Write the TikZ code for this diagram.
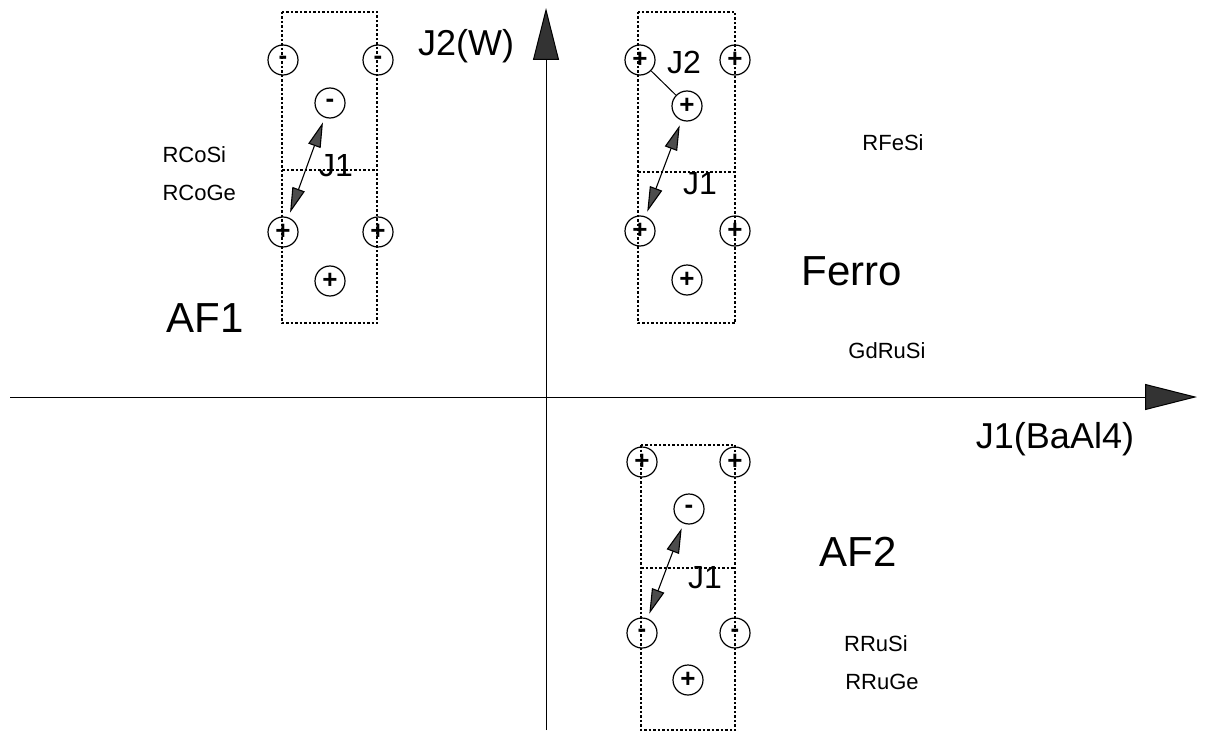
\documentclass[tikz,border=0pt]{standalone}
\usepackage{fontspec}
\setmainfont{Liberation Sans}
\usetikzlibrary{arrows.meta}
\begin{document}
\begin{tikzpicture}[x=1pt,y=-1pt,
  spin/.style={circle,draw,line width=1.2pt,minimum size=30pt,inner sep=0pt,font=\fontsize{26}{26}\selectfont\bfseries},
  cell/.style={draw,line width=1.3pt,dash pattern=on 2.5pt off 2pt},
  axis/.style={line width=1pt,-{Triangle[length=52pt,width=26pt,fill=black!80]}},
  bond/.style={line width=1.1pt,{Triangle[length=25pt,width=13pt,fill=black!70]}-{Triangle[length=25pt,width=13pt,fill=black!70]},shorten >=5pt,shorten <=5pt},
  big/.style={font=\fontsize{42}{42}\selectfont},
  mid/.style={font=\fontsize{36}{36}\selectfont},
  jl/.style={font=\fontsize{32}{32}\selectfont},
  small/.style={font=\fontsize{22}{22}\selectfont}]
\useasboundingbox (0,0) rectangle (1207,733);
% axes
\coordinate (xl) at (10,397);
\coordinate (xr) at (1197,397);
\coordinate (yb) at (546,730);
\coordinate (yt) at (546,8);
\draw[axis] (xl) -- (xr);
\draw[axis] (yb) -- (yt);
% AF1 cell
\draw[cell] (282,12) rectangle (377,323);
\draw[cell] (282,170) -- (377,170);
\node[spin] (a1) at (283,60) {-};
\node[spin] (a2) at (378,60) {-};
\node[spin] (a3) at (330,103) {-};
\node[spin] (a4) at (283,232) {+};
\node[spin] (a5) at (378,232) {+};
\node[spin] (a6) at (330,281) {+};
\draw[bond] (a4) -- (a3);
\node[jl] (ja1) at (336,166) {J1};
% Ferro cell
\draw[cell] (638,12) rectangle (735,323);
\draw[cell] (638,172) -- (735,172);
\node[spin] (f1) at (640,60) {+};
\node[spin] (f2) at (735,60) {+};
\node[spin] (f3) at (687,106) {+};
\node[spin] (f4) at (640,231) {+};
\node[spin] (f5) at (735,231) {+};
\node[spin] (f6) at (687,280) {+};
\draw[line width=1pt] (f1) -- (f3);
\draw[bond] (f4) -- (f3);
\node[jl] (jf2) at (684,62) {J2};
\node[jl] (jf1) at (700,184) {J1};
% AF2 cell
\draw[cell] (641,445) rectangle (735,730);
\draw[cell] (641,568) -- (735,568);
\node[spin] (g1) at (642,462) {+};
\node[spin] (g2) at (735,462) {+};
\node[spin] (g3) at (689,509) {-};
\node[spin] (g4) at (642,633) {-};
\node[spin] (g5) at (735,633) {-};
\node[spin] (g6) at (688,680) {+};
\draw[bond] (g4) -- (g3);
\node[jl] (jg1) at (705,578) {J1};
% labels
\node[mid] (lj2) at (466,46) {J2(W)};
\node[mid] (lj1) at (1055,439) {J1(BaAl4)};
\node[big] (lferro) at (852,271) {Ferro};
\node[big] (laf1) at (205,318) {AF1};
\node[big] (laf2) at (858,552) {AF2};
\node[small,anchor=west] (lrcosi) at (159,155) {RCoSi};
\node[small,anchor=west] (lrcoge) at (159,193) {RCoGe};
\node[small] (lrfesi) at (893,143) {RFeSi};
\node[small] (lgdrusi) at (887,351) {GdRuSi};
\node[small] (lrrusi) at (876,644) {RRuSi};
\node[small] (lrruge) at (882,682) {RRuGe};
\end{tikzpicture}
\end{document}
